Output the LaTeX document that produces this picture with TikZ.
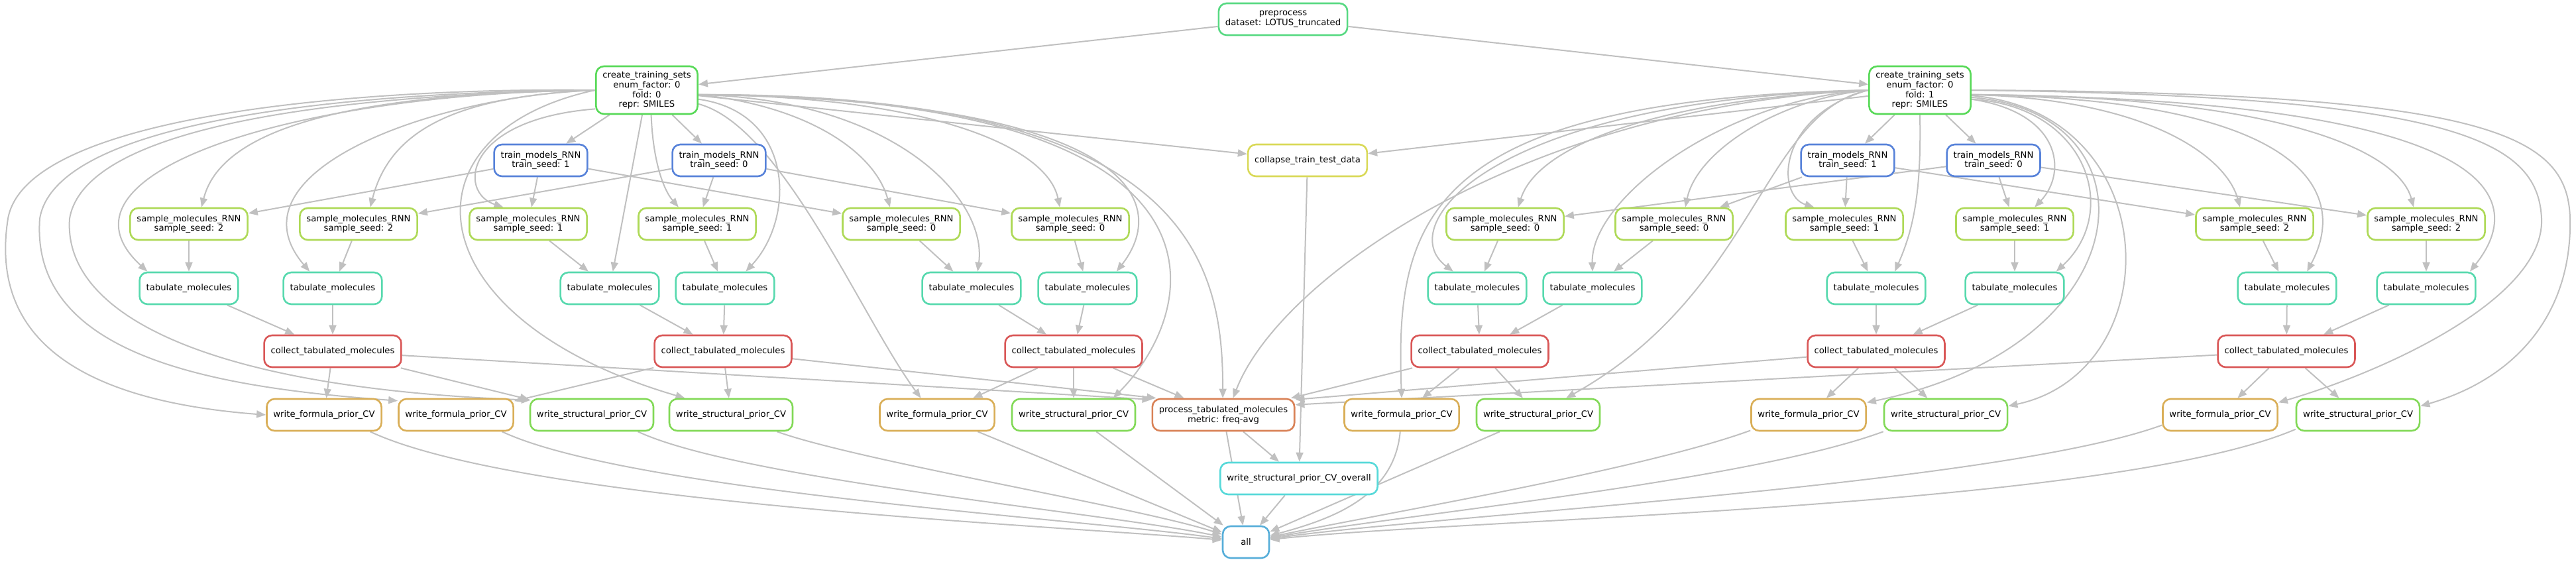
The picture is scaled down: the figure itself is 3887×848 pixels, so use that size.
\documentclass[tikz,border=0pt]{standalone}
\usepackage{fontspec}
\setmainfont{DejaVu Sans}
\usetikzlibrary{arrows.meta, backgrounds}

\definecolor{cprep}{HTML}{57D982}
\definecolor{ccreate}{HTML}{57D957}
\definecolor{ctrain}{HTML}{5782D9}
\definecolor{ccollapse}{HTML}{D9D957}
\definecolor{csample}{HTML}{AED957}
\definecolor{ctab}{HTML}{57D9AE}
\definecolor{ccollect}{HTML}{D95757}
\definecolor{cformula}{HTML}{D9AE57}
\definecolor{cstruct}{HTML}{82D957}
\definecolor{cproc}{HTML}{D98257}
\definecolor{coverall}{HTML}{57D9D9}
\definecolor{call}{HTML}{57AED9}
\definecolor{edgegray}{HTML}{C0C0C0}

\begin{document}
\begin{tikzpicture}[
  x=1pt, y=1pt,
  box/.style={rectangle, rounded corners=12pt, draw, line width=2.6pt, fill=white, minimum width=70pt, minimum height=48pt, inner xsep=10pt, align=center, font=\fontsize{13.2}{14.8}\selectfont},
  prepbox/.style={box, draw=cprep},
  createbox/.style={box, draw=ccreate, minimum height=72pt},
  trainbox/.style={box, draw=ctrain},
  collapsebox/.style={box, draw=ccollapse},
  sampbox/.style={box, draw=csample},
  tabbox/.style={box, draw=ctab},
  collbox/.style={box, draw=ccollect},
  formbox/.style={box, draw=cformula},
  structbox/.style={box, draw=cstruct},
  procbox/.style={box, draw=cproc},
  overallbox/.style={box, draw=coverall},
  allbox/.style={box, draw=call},
  >={Triangle[length=14pt, width=11pt]},
  dep/.style={->, draw=edgegray, line width=2pt}
]
\useasboundingbox (0,0) rectangle (3887,-848);

\node[prepbox] (prep) at (1936,-29) {preprocess\\dataset: LOTUS\_truncated};
\node[createbox] (ctsA) at (976,-136) {create\_training\_sets\\enum\_factor: 0\\fold: 0\\repr: SMILES};
\node[createbox] (ctsB) at (2897,-136) {create\_training\_sets\\enum\_factor: 0\\fold: 1\\repr: SMILES};

\node[trainbox] (trainA1) at (816,-242) {train\_models\_RNN\\train\_seed: 1};
\node[trainbox] (trainA0) at (1085,-242) {train\_models\_RNN\\train\_seed: 0};
\node[collapsebox] (collapse) at (1973,-242) {collapse\_train\_test\_data};
\node[trainbox] (trainB1) at (2788,-242) {train\_models\_RNN\\train\_seed: 1};
\node[trainbox] (trainB0) at (3008,-242) {train\_models\_RNN\\train\_seed: 0};

\node[sampbox] (sampA1) at (285,-338) {sample\_molecules\_RNN\\sample\_seed: 2};
\node[sampbox] (sampA2) at (541,-338) {sample\_molecules\_RNN\\sample\_seed: 2};
\node[sampbox] (sampA3) at (797,-338) {sample\_molecules\_RNN\\sample\_seed: 1};
\node[sampbox] (sampA4) at (1052,-338) {sample\_molecules\_RNN\\sample\_seed: 1};
\node[sampbox] (sampA5) at (1360,-338) {sample\_molecules\_RNN\\sample\_seed: 0};
\node[sampbox] (sampA6) at (1615,-338) {sample\_molecules\_RNN\\sample\_seed: 0};
\node[sampbox] (sampB1) at (2271,-338) {sample\_molecules\_RNN\\sample\_seed: 0};
\node[sampbox] (sampB2) at (2526,-338) {sample\_molecules\_RNN\\sample\_seed: 0};
\node[sampbox] (sampB3) at (2783,-338) {sample\_molecules\_RNN\\sample\_seed: 1};
\node[sampbox] (sampB4) at (3040,-338) {sample\_molecules\_RNN\\sample\_seed: 1};
\node[sampbox] (sampB5) at (3402,-338) {sample\_molecules\_RNN\\sample\_seed: 2};
\node[sampbox] (sampB6) at (3661,-338) {sample\_molecules\_RNN\\sample\_seed: 2};

\node[tabbox] (tabA1) at (285,-435) {tabulate\_molecules};
\node[tabbox] (tabA2) at (502,-435) {tabulate\_molecules};
\node[tabbox] (tabA3) at (920,-435) {tabulate\_molecules};
\node[tabbox] (tabA4) at (1094,-435) {tabulate\_molecules};
\node[tabbox] (tabA5) at (1466,-435) {tabulate\_molecules};
\node[tabbox] (tabA6) at (1641,-435) {tabulate\_molecules};
\node[tabbox] (tabB1) at (2229,-435) {tabulate\_molecules};
\node[tabbox] (tabB2) at (2403,-435) {tabulate\_molecules};
\node[tabbox] (tabB3) at (2831,-435) {tabulate\_molecules};
\node[tabbox] (tabB4) at (3040,-435) {tabulate\_molecules};
\node[tabbox] (tabB5) at (3451,-435) {tabulate\_molecules};
\node[tabbox] (tabB6) at (3661,-435) {tabulate\_molecules};

\node[collbox] (collA1) at (502,-530) {collect\_tabulated\_molecules};
\node[collbox] (collA2) at (1091,-530) {collect\_tabulated\_molecules};
\node[collbox] (collA3) at (1620,-530) {collect\_tabulated\_molecules};
\node[collbox] (collB1) at (2233,-530) {collect\_tabulated\_molecules};
\node[collbox] (collB2) at (2831,-530) {collect\_tabulated\_molecules};
\node[collbox] (collB3) at (3450,-530) {collect\_tabulated\_molecules};

\node[formbox] (formA1) at (489,-626) {write\_formula\_prior\_CV};
\node[formbox] (formA2) at (688,-626) {write\_formula\_prior\_CV};
\node[structbox] (structA1) at (893,-626) {write\_structural\_prior\_CV};
\node[structbox] (structA2) at (1103,-626) {write\_structural\_prior\_CV};
\node[formbox] (formA3) at (1414,-626) {write\_formula\_prior\_CV};
\node[structbox] (structA3) at (1620,-626) {write\_structural\_prior\_CV};
\node[procbox] (proc) at (1846,-626) {process\_tabulated\_molecules\\metric: freq-avg};
\node[formbox] (formB1) at (2115,-626) {write\_formula\_prior\_CV};
\node[structbox] (structB1) at (2321,-626) {write\_structural\_prior\_CV};
\node[formbox] (formB2) at (2729,-626) {write\_formula\_prior\_CV};
\node[structbox] (structB2) at (2936,-626) {write\_structural\_prior\_CV};
\node[formbox] (formB3) at (3350,-626) {write\_formula\_prior\_CV};
\node[structbox] (structB3) at (3558,-626) {write\_structural\_prior\_CV};

\node[overallbox] (overall) at (1960,-722) {write\_structural\_prior\_CV\_overall};
\node[allbox] (all) at (1880,-818) {all};

\begin{scope}[on background layer]
\draw[dep] (prep) -- (ctsA);
\draw[dep] (prep) -- (ctsB);
\draw[dep] (ctsA) -- (trainA1);
\draw[dep] (ctsA) -- (trainA0);
\draw[dep] (ctsB) -- (trainB1);
\draw[dep] (ctsB) -- (trainB0);
\draw[dep] (ctsA) -- (collapse);
\draw[dep] (ctsB) -- (collapse);

\draw[dep] (ctsA.west) .. controls (560,-132) and (40,-170) .. (12,-330) .. controls (-10,-470) and (60,-600) .. (formA1.west);
\draw[dep] (ctsA.west) .. controls (560,-138) and (85,-175) .. (60,-330) .. controls (45,-540) and (330,-585) .. ([yshift=-4pt]formA2.north west);
\draw[dep] (ctsA.west) .. controls (560,-142) and (130,-180) .. (105,-330) .. controls (95,-470) and (300,-585) .. ([xshift=2pt, yshift=-3pt]structA1.north west);
\draw[dep] (ctsA.west) .. controls (450,-140) and (60,-260) .. (tabA1.158);
\draw[dep] (ctsA.west) .. controls (620,-140) and (340,-170) .. (sampA1.53);
\draw[dep] (ctsA.west) .. controls (650,-145) and (340,-260) .. (tabA2.144);
\draw[dep] (ctsA.west) .. controls (700,-145) and (590,-190) .. (sampA2.55);
\draw[dep] (ctsA.west) .. controls (600,-200) and (620,-480) .. (structA2.160);
\draw[dep] (ctsA.200) .. controls (700,-180) and (690,-290) .. (sampA3.146);
\draw[dep] (ctsA) -- (tabA3);
\draw[dep] (ctsA.-80) .. controls (985,-240) and (1000,-285) .. (sampA4.138);
\draw[dep] (ctsA.-10) .. controls (1200,-170) and (1200,-330) .. (tabA4.39);
\draw[dep] (ctsA.-15) .. controls (1180,-190) and (1300,-480) .. (formA3.134);
\draw[dep] (ctsA.-5) .. controls (1220,-160) and (1320,-230) .. (sampA5.124);
\draw[dep] (ctsA.-5) .. controls (1350,-150) and (1490,-300) .. (tabA5.70);
\draw[dep] (ctsA.-5) .. controls (1400,-145) and (1580,-220) .. (sampA6.122);
\draw[dep] (ctsA.-5) .. controls (1700,-150) and (1770,-300) .. (tabA6.30);
\draw[dep] (ctsA.-5) .. controls (1900,-145) and (1810,-470) .. (structA3.23);
\draw[dep] (ctsA.-5) .. controls (1800,-140) and (1845,-400) .. (proc.92);

\draw[dep] (ctsB.west) .. controls (2300,-160) and (1930,-420) .. (proc.60);
\draw[dep] (ctsB.west) .. controls (2150,-150) and (2105,-330) .. (formB1.north);
\draw[dep] (ctsB.west) .. controls (2250,-150) and (2100,-340) .. (tabB1.145);
\draw[dep] (ctsB.west) .. controls (2500,-150) and (2320,-220) .. (sampB1.52);
\draw[dep] (ctsB.west) .. controls (2600,-150) and (2400,-300) .. (tabB2.north);
\draw[dep] (ctsB.west) .. controls (2680,-150) and (2560,-230) .. (sampB2.56);
\draw[dep] (ctsB.west) .. controls (2660,-170) and (2650,-440) .. (structB1.31);
\draw[dep] (ctsB.west) .. controls (2680,-175) and (2680,-295) .. (sampB3.151);
\draw[dep] (ctsB.south) .. controls (2899,-280) and (2890,-340) .. (tabB3.42);
\draw[dep] (ctsB.-10) .. controls (3110,-170) and (3120,-260) .. (sampB4.40);
\draw[dep] (ctsB.-10) .. controls (3150,-160) and (3200,-320) .. (tabB4.22);
\draw[dep] (ctsB.-8) .. controls (3260,-170) and (3240,-520) .. (formB2.12);
\draw[dep] (ctsB.-6) .. controls (3270,-170) and (3275,-560) .. (structB2.8);
\draw[dep] (ctsB.-5) .. controls (3250,-150) and (3360,-240) .. (sampB5.131);
\draw[dep] (ctsB.-5) .. controls (3480,-150) and (3545,-290) .. (tabB5.40);
\draw[dep] (ctsB.-5) .. controls (3450,-145) and (3620,-230) .. (sampB6.127);
\draw[dep] (ctsB.-5) .. controls (3720,-150) and (3830,-280) .. (tabB6.21);
\draw[dep] (ctsB.east) .. controls (3700,-145) and (3830,-210) .. (3835,-330) .. controls (3840,-450) and (3600,-560) .. (formB3.12);
\draw[dep] (ctsB.east) .. controls (3750,-140) and (3875,-200) .. (3878,-330) .. controls (3881,-470) and (3800,-570) .. (structB3.8);

\draw[dep] (trainA1) -- (sampA1);
\draw[dep] (trainA1) -- (sampA3);
\draw[dep] (trainA1) -- (sampA5);
\draw[dep] (trainA0) -- (sampA2);
\draw[dep] (trainA0) -- (sampA4);
\draw[dep] (trainA0) -- (sampA6);
\draw[dep] (trainB1) -- (sampB2);
\draw[dep] (trainB1) -- (sampB3);
\draw[dep] (trainB1) -- (sampB5);
\draw[dep] (trainB0) -- (sampB1);
\draw[dep] (trainB0) -- (sampB4);
\draw[dep] (trainB0) -- (sampB6);

\draw[dep] (sampA1) -- (tabA1);
\draw[dep] (sampA2) -- (tabA2);
\draw[dep] (sampA3) -- (tabA3);
\draw[dep] (sampA4) -- (tabA4);
\draw[dep] (sampA5) -- (tabA5);
\draw[dep] (sampA6) -- (tabA6);
\draw[dep] (sampB1) -- (tabB1);
\draw[dep] (sampB2) -- (tabB2);
\draw[dep] (sampB3) -- (tabB3);
\draw[dep] (sampB4) -- (tabB4);
\draw[dep] (sampB5) -- (tabB5);
\draw[dep] (sampB6) -- (tabB6);

\draw[dep] (tabA1) -- (collA1);
\draw[dep] (tabA2) -- (collA1);
\draw[dep] (tabA3) -- (collA2);
\draw[dep] (tabA4) -- (collA2);
\draw[dep] (tabA5) -- (collA3);
\draw[dep] (tabA6) -- (collA3);
\draw[dep] (tabB1) -- (collB1);
\draw[dep] (tabB2) -- (collB1);
\draw[dep] (tabB3) -- (collB2);
\draw[dep] (tabB4) -- (collB2);
\draw[dep] (tabB5) -- (collB3);
\draw[dep] (tabB6) -- (collB3);

\draw[dep] (collA1) -- (formA1);
\draw[dep] (collA1) -- (structA1);
\draw[dep] (collA2) -- (formA2);
\draw[dep] (collA2) -- (structA2);
\draw[dep] (collA3) -- (formA3);
\draw[dep] (collA3) -- (structA3);
\draw[dep] (collB1) -- (formB1);
\draw[dep] (collB1) -- (structB1);
\draw[dep] (collB2) -- (formB2);
\draw[dep] (collB2) -- (structB2);
\draw[dep] (collB3) -- (formB3);
\draw[dep] (collB3) -- (structB3);

\draw[dep] (collA1) -- (proc.168);
\draw[dep] (collA2) -- (proc.166);
\draw[dep] (collA3) -- (proc);
\draw[dep] (collB1) -- (proc);
\draw[dep] (collB2) -- (proc.12);
\draw[dep] (collB3) -- (proc.8);

\draw[dep] (proc) -- (overall);
\draw[dep] (collapse) -- (overall);
\draw[dep] (proc) -- (all);
\draw[dep] (overall) -- (all);

\draw[dep] (formA1.-20) .. controls (786,-758) and (1591,-793) .. (all.175);
\draw[dep] (formA2.-20) .. controls (949,-741) and (1632,-783) .. (all.172);
\draw[dep] (structA1.-20) .. controls (1119,-724) and (1673,-774) .. (all.168);
\draw[dep] (structA2.-20) .. controls (1297,-696) and (1716,-765) .. (all.162);
\draw[dep] (formA3) -- (all);
\draw[dep] (structA3) -- (all);
\draw[dep] (formB1.-95) .. controls (2104,-749) and (2011,-783) .. (all.15);
\draw[dep] (structB1) -- (all);
\draw[dep] (formB2.195) .. controls (2478,-709) and (2085,-775) .. (all.12);
\draw[dep] (structB2.195) .. controls (2638,-726) and (2133,-774) .. (all.10);
\draw[dep] (formB3.190) .. controls (3014,-732) and (2177,-776) .. (all.8);
\draw[dep] (structB3.193) .. controls (3184,-767) and (2218,-782) .. (all.6);
\end{scope}
\end{tikzpicture}
\end{document}
